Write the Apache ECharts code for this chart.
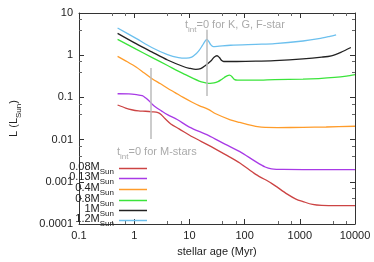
<!DOCTYPE html>
<html><head><meta charset="utf-8">
<script src="https://cdn.jsdelivr.net/npm/echarts@6/dist/echarts.min.js"></script>
<style>html,body{margin:0;padding:0;background:#fff}#c{width:374px;height:262px}</style>
</head><body><div id="c"></div>
<script>
// ---- data (age in Myr, luminosity in L_Sun) ----
const names = ['0.08', '0.13', '0.4', '0.8', '1', '1.2'];
const colors = ['#cc4444', '#a83ae6', '#ff9c2a', '#3be43b', '#222222', '#6cc0ee'];

const age008 = [0.5, 0.7, 0.9, 1.2, 1.6, 2.1, 2.7, 3.1, 3.6, 4.6, 6.5, 11.5, 22, 45, 82, 159, 308, 593, 850, 1143, 1700, 2500, 5000, 10000];
const lum008 = [0.066, 0.056, 0.051, 0.048, 0.047, 0.0455, 0.0435, 0.039, 0.0315, 0.0235, 0.018, 0.0115, 0.0074, 0.0044, 0.0028, 0.0015, 0.00092, 0.00051, 0.00039, 0.00034, 0.00029, 0.000275, 0.000272, 0.000272];

const age013 = [0.5, 0.8, 1.1, 1.4, 1.6, 1.85, 2.1, 2.4, 3.1, 4, 6, 10, 22, 45, 82, 159, 236, 308, 500, 1143, 10000];
const lum013 = [0.122, 0.121, 0.116, 0.110, 0.098, 0.083, 0.07, 0.06, 0.048, 0.039, 0.03, 0.0198, 0.0126, 0.0077, 0.0052, 0.0030, 0.00224, 0.00203, 0.00196, 0.00195, 0.00195];

const age04 = [0.5, 0.75, 1.08, 1.5, 2.08, 3, 4.02, 5.5, 7.74, 11, 15, 22, 30, 55, 82, 107, 159, 236, 400, 1143, 3000, 10000];
const lum04 = [0.94, 0.70, 0.525, 0.385, 0.281, 0.21, 0.165, 0.13, 0.1, 0.078, 0.064, 0.052, 0.041, 0.0295, 0.0255, 0.0233, 0.0207, 0.0194, 0.0193, 0.0195, 0.0199, 0.0207];

const age08 = [0.5, 1.08, 2.08, 4.02, 7.74, 15, 20, 23.7, 28, 32.9, 38, 42.9, 48, 53.5, 59, 65, 75, 107, 159, 351, 1143, 2200, 4250, 7000, 10000];
const lum08 = [2.37, 1.39, 0.89, 0.57, 0.367, 0.244, 0.222, 0.215, 0.22, 0.236, 0.265, 0.297, 0.325, 0.336, 0.31, 0.267, 0.256, 0.257, 0.257, 0.265, 0.271, 0.28, 0.297, 0.32, 0.348];

const age10 = [0.5, 1.08, 2.08, 4.02, 7.74, 10, 13.1, 16, 19.5, 25, 28, 31.6, 35, 38, 41.7, 72, 159, 351, 1143, 2500, 3730, 5530, 8430];
const lum10 = [3.3, 1.88, 1.2, 0.77, 0.54, 0.49, 0.46, 0.48, 0.57, 0.75, 0.9, 0.97, 0.88, 0.76, 0.71, 0.71, 0.72, 0.746, 0.82, 0.9, 0.97, 1.17, 1.52];

const age12 = [0.5, 1.08, 2.08, 4.02, 6.35, 8.85, 11, 13.1, 15, 17, 19, 20.7, 22.5, 24.5, 27, 32, 55.6, 159, 351, 1143, 2208, 3500, 4550];
const lum12 = [4.4, 2.5, 1.52, 1.03, 0.875, 0.85, 0.9, 1.07, 1.3, 1.66, 2.1, 2.37, 2.1, 1.75, 1.6, 1.62, 1.72, 1.81, 1.88, 2.17, 2.46, 2.8, 3.05];

const xTicks = [0.1, 1, 10, 100, 1000, 10000];
const yTicks = [0.0001, 0.001, 0.01, 0.1, 1, 10];

// annotation markers: t_int = 0 lines [age, L_top, L_bottom]
const mStarLine = [2, 0.5, 0.0103];
const kgfStarLine = [21, 4.0, 0.108];

const ages = [age008, age013, age04, age08, age10, age12];
const lums = [lum008, lum013, lum04, lum08, lum10, lum12];

const FONT = 'Liberation Sans, Arial, sans-serif';
const fmt = v => String(+(+v).toPrecision(3));

const series = names.map((n, i) => ({
  name: n,
  type: 'line',
  xAxisIndex: 0, yAxisIndex: 0,
  data: ages[i].map((a, j) => [a, lums[i][j]]),
  showSymbol: false,
  smooth: 0.3,
  lineStyle: { color: colors[i], width: 1.3 },
  itemStyle: { color: colors[i] },
  z: 3
}));

series.push({
  type: 'line', data: [], xAxisIndex: 0, yAxisIndex: 0,
  markLine: {
    silent: true, symbol: 'none', label: { show: false },
    lineStyle: { color: '#bbbbbb', width: 1.5, type: 'solid' },
    data: [
      [{ coord: [mStarLine[0], mStarLine[1]] }, { coord: [mStarLine[0], mStarLine[2]] }],
      [{ coord: [kgfStarLine[0], kgfStarLine[1]] }, { coord: [kgfStarLine[0], kgfStarLine[2]] }]
    ]
  },
  z: 2
});

const rich = {
  a: { fontSize: 11, fontFamily: FONT, color: '#222', lineHeight: 11, verticalAlign: 'top' },
  s: { fontSize: 8, fontFamily: FONT, color: '#222', lineHeight: 15, verticalAlign: 'bottom' }
};
const legendTops = [161, 171, 182, 193, 203, 213];
const legends = names.map((n, i) => ({
  data: [n],
  right: 227, top: legendTops[i],
  orient: 'vertical', align: 'right', padding: 0,
  itemWidth: 28, itemHeight: 1.5, icon: 'rect',
  selectedMode: false,
  formatter: name => '{a|' + name + 'M}{s|Sun}',
  textStyle: { rich: rich }
}));

const axisCommon = {
  type: 'log', logBase: 10,
  axisLine: { show: true, lineStyle: { color: '#333', width: 1 } },
  axisTick: { show: true, inside: true, length: 5, lineStyle: { color: '#333' } },
  minorTick: { show: true, splitNumber: 3, length: 3, lineStyle: { color: '#666' } },
  splitLine: { show: false }
};

const option = {
  animation: false,
  grid: { left: 63, right: 19, top: 13, bottom: 34 },
  xAxis: [
    Object.assign({}, axisCommon, {
      min: xTicks[0], max: xTicks[xTicks.length - 1], position: 'bottom',
      axisLabel: { fontSize: 11, fontFamily: FONT, color: '#222', margin: 6, formatter: fmt },
      name: 'stellar age (Myr)', nameLocation: 'middle', nameGap: 22,
      nameTextStyle: { fontSize: 11, fontFamily: FONT, color: '#222' }
    }),
    Object.assign({}, axisCommon, {
      min: xTicks[0], max: xTicks[xTicks.length - 1], position: 'top',
      axisLabel: { show: false }
    })
  ],
  yAxis: [
    Object.assign({}, axisCommon, {
      min: yTicks[0], max: yTicks[yTicks.length - 1], position: 'left',
      axisLabel: { fontSize: 11, fontFamily: FONT, color: '#222', margin: 6, formatter: fmt },
      name: '{a|L (L}{s|Sun}{a|)}', nameLocation: 'middle', nameGap: 56,
      nameTextStyle: { rich: rich }
    }),
    Object.assign({}, axisCommon, {
      min: yTicks[0], max: yTicks[yTicks.length - 1], position: 'right',
      axisLabel: { show: false }
    })
  ],
  legend: legends,
  series: series,
  graphic: [
    { type: 'text', left: 185, top: 19, z: 10,
      style: { text: '{g|t}{gs|int}{g|=0 for K, G, F-star}', rich: {
        g: { fontSize: 11, fontFamily: FONT, fill: '#aaaaaa', lineHeight: 11, verticalAlign: 'top' },
        gs: { fontSize: 8, fontFamily: FONT, fill: '#aaaaaa', lineHeight: 15, verticalAlign: 'bottom' } } } },
    { type: 'text', left: 117, top: 146, z: 10,
      style: { text: '{g|t}{gs|int}{g|=0 for M-stars}', rich: {
        g: { fontSize: 11, fontFamily: FONT, fill: '#aaaaaa', lineHeight: 11, verticalAlign: 'top' },
        gs: { fontSize: 8, fontFamily: FONT, fill: '#aaaaaa', lineHeight: 15, verticalAlign: 'bottom' } } } }
  ]
};

const chart = echarts.init(document.getElementById('c'), null, { renderer: 'canvas' });
chart.setOption(option);
</script>
</body></html>
